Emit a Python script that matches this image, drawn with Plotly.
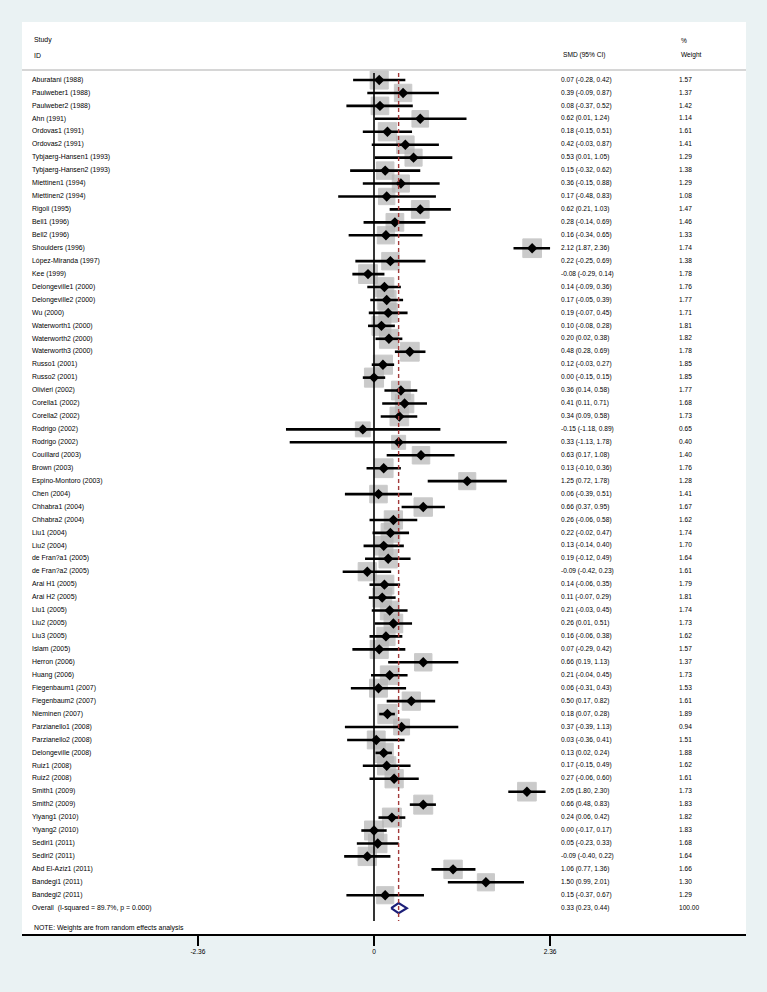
import plotly.graph_objects as go

# study rows of the forest plot (SMD, 95% CI, random-effects weight)
studies = ["Aburatani (1988)", "Paulweber1 (1988)", "Paulweber2 (1988)", "Ahn (1991)",
           "Ordovas1 (1991)", "Ordovas2 (1991)", "Tybjaerg-Hansen1 (1993)", "Tybjaerg-Hansen2 (1993)",
           "Miettinen1 (1994)", "Miettinen2 (1994)", "Rigoli (1995)", "Bell1 (1996)", "Bell2 (1996)",
           "Shoulders (1996)", "López-Miranda (1997)", "Kee (1999)", "Delongeville1 (2000)",
           "Delongeville2 (2000)", "Wu (2000)", "Waterworth1 (2000)", "Waterworth2 (2000)",
           "Waterworth3 (2000)", "Russo1 (2001)", "Russo2 (2001)", "Olivieri (2002)", "Corella1 (2002)",
           "Corella2 (2002)", "Rodrigo (2002)", "Rodrigo (2002)", "Couillard (2003)", "Brown (2003)",
           "Espino-Montoro (2003)", "Chen (2004)", "Chhabra1 (2004)", "Chhabra2 (2004)", "Liu1 (2004)",
           "Liu2 (2004)", "de Fran?a1 (2005)", "de Fran?a2 (2005)", "Arai H1 (2005)", "Arai H2 (2005)",
           "Liu1 (2005)", "Liu2 (2005)", "Liu3 (2005)", "Islam (2005)", "Herron (2006)", "Huang (2006)",
           "Fiegenbaum1 (2007)", "Fiegenbaum2 (2007)", "Nieminen (2007)", "Parzianello1 (2008)",
           "Parzianello2 (2008)", "Delongeville (2008)", "Ruiz1 (2008)", "Ruiz2 (2008)", "Smith1 (2009)",
           "Smith2 (2009)", "Yiyang1 (2010)", "Yiyang2 (2010)", "Sediri1 (2011)", "Sediri2 (2011)",
           "Abd El-Aziz1 (2011)", "Bandegi1 (2011)", "Bandegi2 (2011)"]
es = [0.07, 0.39, 0.08, 0.62, 0.18, 0.42, 0.53, 0.15, 0.36, 0.17, 0.62, 0.28, 0.16, 2.12, 0.22, -0.08,
      0.14, 0.17, 0.19, 0.10, 0.20, 0.48, 0.12, 0.00, 0.36, 0.41, 0.34, -0.15, 0.33, 0.63, 0.13, 1.25,
      0.06, 0.66, 0.26, 0.22, 0.13, 0.19, -0.09, 0.14, 0.11, 0.21, 0.26, 0.16, 0.07, 0.66, 0.21, 0.06,
      0.50, 0.18, 0.37, 0.03, 0.13, 0.17, 0.27, 2.05, 0.66, 0.24, 0.00, 0.05, -0.09, 1.06, 1.50, 0.15]
lo = [-0.28, -0.09, -0.37, 0.01, -0.15, -0.03, 0.01, -0.32, -0.15, -0.48, 0.21, -0.14, -0.34, 1.87, -0.25,
      -0.29, -0.09, -0.05, -0.07, -0.08, 0.02, 0.28, -0.03, -0.15, 0.14, 0.11, 0.09, -1.18, -1.13, 0.17,
      -0.10, 0.72, -0.39, 0.37, -0.06, -0.02, -0.14, -0.12, -0.42, -0.06, -0.07, -0.03, 0.01, -0.06, -0.29,
      0.19, -0.04, -0.31, 0.17, 0.07, -0.39, -0.36, 0.02, -0.15, -0.06, 1.80, 0.48, 0.06, -0.17, -0.23,
      -0.40, 0.77, 0.99, -0.37]
hi = [0.42, 0.87, 0.52, 1.24, 0.51, 0.87, 1.05, 0.62, 0.88, 0.83, 1.03, 0.69, 0.65, 2.36, 0.69, 0.14,
      0.36, 0.39, 0.45, 0.28, 0.38, 0.69, 0.27, 0.15, 0.58, 0.71, 0.58, 0.89, 1.78, 1.08, 0.36, 1.78,
      0.51, 0.95, 0.58, 0.47, 0.40, 0.49, 0.23, 0.35, 0.29, 0.45, 0.51, 0.38, 0.42, 1.13, 0.45, 0.43,
      0.82, 0.28, 1.13, 0.41, 0.24, 0.49, 0.60, 2.30, 0.83, 0.42, 0.17, 0.33, 0.22, 1.36, 2.01, 0.67]
weights = [1.57, 1.37, 1.42, 1.14, 1.61, 1.41, 1.29, 1.38, 1.29, 1.08, 1.47, 1.46, 1.33, 1.74, 1.38, 1.78,
           1.76, 1.77, 1.71, 1.81, 1.82, 1.78, 1.85, 1.85, 1.77, 1.68, 1.73, 0.65, 0.40, 1.40, 1.76, 1.28,
           1.41, 1.67, 1.62, 1.74, 1.70, 1.64, 1.61, 1.79, 1.81, 1.74, 1.73, 1.62, 1.57, 1.37, 1.73, 1.53,
           1.61, 1.89, 0.94, 1.51, 1.88, 1.62, 1.61, 1.73, 1.83, 1.82, 1.83, 1.68, 1.64, 1.66, 1.30, 1.29]
overall = dict(label="Overall  (I-squared = 89.7%, p = 0.000)", es=0.33, lo=0.23, hi=0.44, w="100.00")
xticks = [-2.36, 0, 2.36]
xticklabels = ["-2.36", "0", "2.36"]

W, H = 767, 992
L, R, T, B = 22, 746, 22, 934          # white plot region in pixels
ZERO_PX, PX_UNIT = 374, 74.6
ROW0_PX, ROW_PX = 80, 12.94

def px2x(px):
    return (px - ZERO_PX) / PX_UNIT

def py2r(py):
    return 1 + (py - ROW0_PX) / ROW_PX

n = len(studies)
rows = list(range(1, n + 1))
orow = n + 1
FONT = "Liberation Sans, Arial, sans-serif"
FS = 6.6
FS_LAB = 6.9

fig = go.Figure()

# reference lines: null effect and overall estimate
fig.add_shape(type="line", x0=0, x1=0, y0=py2r(73), y1=py2r(921), line=dict(color="black", width=1.6))
fig.add_shape(type="line", x0=overall["es"], x1=overall["es"], y0=py2r(73), y1=py2r(921),
              line=dict(color="#a33a3a", width=1.4, dash="4px,3px"))

# weight boxes
fig.add_trace(go.Scatter(
    x=es, y=rows, mode="markers",
    marker=dict(symbol="square", color="#b5b5b5", size=[12.6 + 3.5 * w for w in weights],
                line=dict(color="#b5b5b5", width=1)),
    hoverinfo="skip", showlegend=False))

# confidence intervals
cx, cy = [], []
for r, a, b in zip(rows, lo, hi):
    cx += [a, b, None]
    cy += [r, r, None]
fig.add_trace(go.Scatter(x=cx, y=cy, mode="lines", line=dict(color="black", width=2.6),
                         hoverinfo="skip", showlegend=False))

# point estimates
fig.add_trace(go.Scatter(x=es, y=rows, mode="markers",
                         marker=dict(symbol="diamond", color="black", size=8),
                         hoverinfo="skip", showlegend=False))

# overall diamond
dh = 0.39
fig.add_trace(go.Scatter(
    x=[overall["lo"], overall["es"], overall["hi"], overall["es"], overall["lo"]],
    y=[orow, orow - dh, orow, orow + dh, orow],
    mode="lines", fill="toself", fillcolor="white", line=dict(color="#1c1f78", width=2.2),
    hoverinfo="skip", showlegend=False))

# text columns
ci_text = ["%.2f (%.2f, %.2f)" % (e, a, b) for e, a, b in zip(es, lo, hi)]
ci_text.append("%.2f (%.2f, %.2f)" % (overall["es"], overall["lo"], overall["hi"]))
w_text = ["%.2f" % w for w in weights] + [overall["w"]]
labels = studies + [overall["label"]]
for xpx, txt, fs in [(32, labels, FS_LAB), (561, ci_text, FS), (679, w_text, FS)]:
    fig.add_trace(go.Scatter(x=[px2x(xpx)] * len(txt), y=rows + [orow], text=txt, mode="text",
                             textposition="middle right", textfont=dict(family=FONT, size=fs, color="black"),
                             hoverinfo="skip", showlegend=False, cliponaxis=False))

# headers
for xpx, ypx, txt, fs in [(32, 40, "Study", FS_LAB), (32, 55, "ID", FS_LAB), (561, 55, "SMD (95% CI)", FS),
                          (679, 40, "%", FS), (679, 55, "Weight", FS),
                          (32, 928, "NOTE: Weights are from random effects analysis", FS_LAB)]:
    fig.add_annotation(x=px2x(xpx), y=py2r(ypx), text=txt, showarrow=False, xanchor="left",
                       font=dict(family=FONT, size=fs, color="black"))
fig.add_shape(type="line", x0=px2x(L), x1=px2x(R), y0=py2r(70), y1=py2r(70),
              line=dict(color="#c8c8c8", width=1.5))

fig.update_layout(
    width=W, height=H,
    margin=dict(l=L, r=W - R, t=T, b=H - B, pad=0),
    paper_bgcolor="#eaf2f3", plot_bgcolor="white",
    xaxis=dict(range=[px2x(L), px2x(R)], showgrid=False, zeroline=False, showline=True,
               linecolor="black", linewidth=1.5, ticks="outside", ticklen=10, tickwidth=2,
               tickcolor="black", tickvals=xticks, ticktext=xticklabels,
               tickfont=dict(family=FONT, size=FS, color="black")),
    yaxis=dict(range=[py2r(B), py2r(T)], showgrid=False, zeroline=False, showline=False,
               showticklabels=False, ticks=""),
)

# page body margin off so the figure sits at the window origin
fig.write_html("out.html", config={"displayModeBar": False},
               post_script="document.body.style.margin='0px';")
